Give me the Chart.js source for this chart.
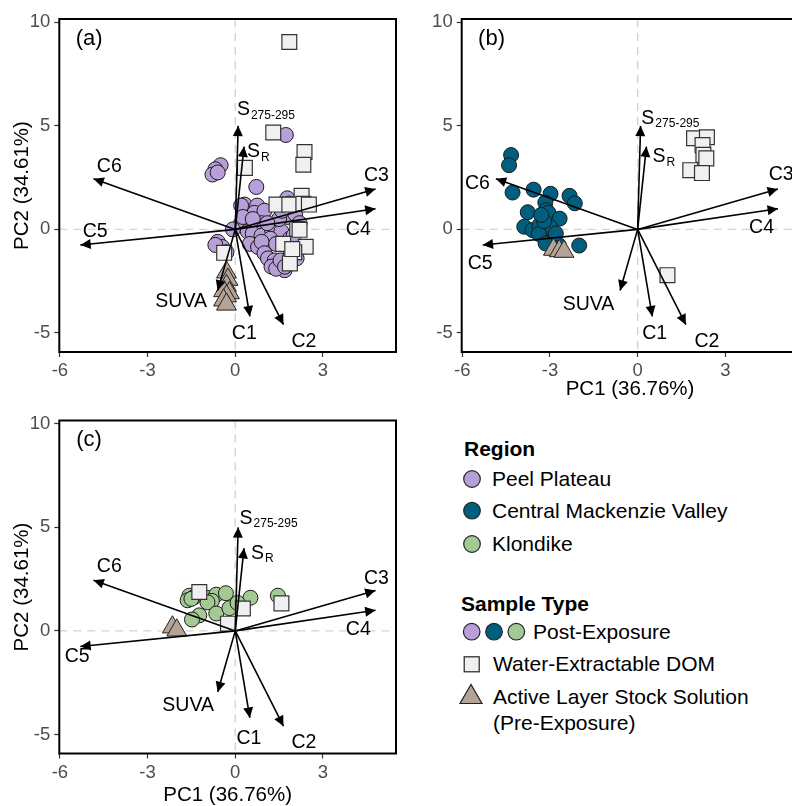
<!DOCTYPE html>
<html>
<head>
<meta charset="utf-8">
<script src="https://cdn.jsdelivr.net/npm/chart.js@4.4.1/dist/chart.umd.min.js"></script>
<style>
  html, body { margin: 0; padding: 0; background: #fff; overflow: hidden; }
  #page { position: relative; width: 792px; height: 806px; overflow: hidden; font-family: "Liberation Sans", Arial, sans-serif; }
  canvas { position: absolute; }
  .lg { position: absolute; font-size: 21px; line-height: 24px; color: #000; white-space: nowrap; }
  .lg.head { font-weight: bold; }
</style>
</head>
<body>
<div id="page">
  <canvas id="panelA" width="400" height="400" style="left:0px;top:0px"></canvas>
  <canvas id="panelB" width="402" height="400" style="left:400px;top:0px"></canvas>
  <canvas id="panelC" width="400" height="406" style="left:0px;top:400px"></canvas>

  <!-- legend -->
  <svg style="position:absolute;left:440px;top:420px" width="352" height="330">
    <g stroke="#222" stroke-width="1.2">
      <circle cx="32" cy="59" r="8.3" fill="#b79fd8"/>
      <circle cx="32" cy="90.7" r="8.3" fill="#005f7f"/>
      <circle cx="32" cy="124" r="8.3" fill="#a3c995"/>
      <circle cx="31.7" cy="211.7" r="8.3" fill="#b79fd8"/>
      <circle cx="54" cy="211.7" r="8.3" fill="#005f7f"/>
      <circle cx="76.3" cy="211.7" r="8.3" fill="#a3c995"/>
      <rect x="24.2" y="236.8" width="15" height="15" fill="#f0f0f0"/>
      <polygon points="20,283.5 42,283.5 31,264.5" fill="#b5a396"/>
    </g>
  </svg>
  <div class="lg head" style="left:464px;top:437px">Region</div>
  <div class="lg" style="left:492px;top:467px">Peel Plateau</div>
  <div class="lg" style="left:492px;top:499px">Central Mackenzie Valley</div>
  <div class="lg" style="left:492px;top:532px">Klondike</div>
  <div class="lg head" style="left:461px;top:592px">Sample Type</div>
  <div class="lg" style="left:533px;top:620px">Post-Exposure</div>
  <div class="lg" style="left:493px;top:652px">Water-Extractable DOM</div>
  <div class="lg" style="left:493px;top:685px">Active Layer Stock Solution</div>
  <div class="lg" style="left:493px;top:711px">(Pre-Exposure)</div>
</div>
<script>
const FONT = '"Liberation Sans", Arial, sans-serif';

// axes, shared by the three panels
const xTicks = [-6, -3, 0, 3];
const yTicks = [-5, 0, 5, 10];
const xRange = [-6.02, 5.5];
const yRange = [-5.92, 10.16];

// PCA loadings (arrows) - identical in every panel
const loadNames = ['C1', 'C2', 'C3', 'C4', 'C5', 'C6', 'SUVA', 'S', 'S'];
const loadSubs  = ['', '', '', '', '', '', '', '275-295', 'R'];
const loadX = [0.5, 1.65, 4.8, 4.8, -5.3, -4.85, -0.6, 0.1, 0.3];
const loadY = [-4.2, -4.6, 1.95, 1.0, -0.75, 2.45, -2.95, 5.0, 4.0];

// label spots per panel (labels were repelled, so they move a bit)
const labelXA = [0.31, 2.35, 4.83, 4.21, -4.79, -4.31, -1.85, 1.05, 0.79];
const labelYA = [-4.95, -5.35, 2.67, 0.08, -0.03, 3.11, -3.42, 5.85, 3.83];
const labelXB = [0.58, 2.37, 4.91, 4.24, -5.39, -5.48, -1.68, 1.12, 0.9];
const labelYB = [-4.95, -5.35, 2.7, 0.16, -1.57, 2.3, -3.55, 5.44, 3.59];
const labelXC = [0.47, 2.35, 4.83, 4.21, -5.41, -4.31, -1.61, 1.14, 0.93];
const labelYC = [-5.12, -5.33, 2.61, 0.16, -1.18, 3.17, -3.51, 5.51, 3.82];
const tagX = -5.0, tagY = 9.2;

// (a) Peel Plateau
const peelPost = [
  [1.73, 4.56], [-0.5, 3.1], [-0.68, 2.9], [-0.78, 2.65], [-0.6, 2.75], [0.72, 2.05],
  [1.78, 1.5], [1.85, 1.25], [0.32, 1.2], [0.75, 1.15], [0.2, 1.15], [0.66, 0.8], [1.0, 0.9],
  [0.2, 0.3], [0.9, 0.3], [1.35, 0.2], [1.8, 0.6], [2.05, 0.75], [0.26, 0.6],
  [-0.08, 0.0], [0.43, -0.1], [0.6, -0.2], [0.9, -0.3], [1.25, 0.0], [1.58, -0.1],
  [1.2, -0.45], [1.87, -0.45], [2.0, -0.3], [-0.6, -0.6], [-0.45, -0.85], [-0.68, -0.75],
  [-0.3, -1.1], [0.5, -0.7], [0.78, -0.85], [0.9, -0.6], [1.4, -0.7], [1.0, -1.15],
  [1.12, -1.4], [1.35, -1.5], [1.46, -1.8], [1.24, -1.8], [1.69, -1.97], [1.4, -1.9],
  [1.55, -1.5], [1.7, -1.8], [2.15, -1.0], [2.1, -1.4], [1.9, -1.2], [0.6, 0.5],
  [1.5, 0.5], [1.1, 0.3], [1.6, 0.9], [2.2, 0.3]
];
const peelWater = [
  [1.85, 9.05], [1.3, 4.68], [2.37, 3.74], [2.33, 3.12], [0.33, 2.97], [2.27, 1.62],
  [1.41, 1.2], [1.85, 1.2], [2.33, 1.24], [2.52, 1.2], [2.12, 0.02], [2.2, -0.02],
  [1.64, -0.7], [2.41, -0.84], [2.02, -1.1], [1.87, -1.64], [-0.38, -1.13], [1.95, -0.95]
];
const peelStock = [
  [-0.3, -2.07], [-0.25, -2.42], [-0.3, -2.72], [-0.4, -2.97], [-0.2, -3.07],
  [-0.3, -3.22], [-0.4, -3.42], [-0.3, -3.62]
];

// (b) Central Mackenzie Valley
const cmvPost = [
  [-4.33, 3.59], [-4.4, 3.1], [-4.28, 1.78], [-3.56, 1.92], [-2.98, 1.72], [-2.33, 1.62],
  [-2.15, 1.26], [-3.16, 1.3], [-3.13, 0.93], [-3.76, 0.83], [-3.05, 0.8], [-2.67, 0.52],
  [-3.88, 0.13], [-3.6, -0.03], [-3.36, 0.2], [-3.05, -0.03], [-3.0, 0.12], [-3.38, -0.22],
  [-3.2, 0.4], [-2.0, -0.78], [-2.9, -0.52], [-3.15, -0.68], [-2.7, -0.76], [-3.3, 0.7],
  [-2.8, -0.2]
];
const cmvWater = [
  [1.93, 4.4], [2.37, 4.45], [2.22, 4.07], [2.25, 3.6], [2.35, 3.43], [1.8, 2.86],
  [2.2, 2.72], [1.02, -2.21]
];
const cmvStock = [[-2.88, -0.97], [-2.68, -1.04], [-2.52, -1.07]];

// (c) Klondike
const klonPost = [
  [-1.57, 1.7], [-1.4, 1.64], [-1.63, 1.48], [-1.5, 1.55], [-0.97, 1.6], [-0.65, 1.75],
  [-0.32, 1.82], [-0.8, 1.45], [-0.95, 1.38], [0.52, 1.6], [1.46, 1.7], [-1.23, 0.75],
  [-1.48, 0.55], [-0.65, 0.84], [-0.2, 1.1], [0.08, 1.35]
];
const klonWater = [[-1.23, 1.88], [1.58, 1.33], [0.26, 1.08], [-0.25, 0.35]];
const klonStock = [[-2.15, 0.18], [-2.0, 0.03]];

// zero lines, arrow heads, arrow labels, panel tag and the panel box
const biplot = {
  id: 'biplot',
  beforeDatasetsDraw(chart) {
    const {ctx, chartArea: a, scales: {x, y}} = chart;
    const x0 = x.getPixelForValue(0), y0 = y.getPixelForValue(0);
    ctx.save();
    ctx.strokeStyle = '#d4d4d4';
    ctx.lineWidth = 1.4;
    ctx.setLineDash([8, 6]);
    ctx.beginPath();
    ctx.moveTo(x0, a.top); ctx.lineTo(x0, a.bottom);
    ctx.moveTo(a.left, y0); ctx.lineTo(a.right, y0);
    ctx.stroke();
    ctx.restore();
  },
  afterDatasetsDraw(chart, args, opts) {
    const {ctx, chartArea: a, scales: {x, y}} = chart;
    const x0 = x.getPixelForValue(0), y0 = y.getPixelForValue(0);
    ctx.save();
    ctx.fillStyle = '#000';
    loadX.forEach((lx, i) => {
      const tx = x.getPixelForValue(lx), ty = y.getPixelForValue(loadY[i]);
      const ang = Math.atan2(ty - y0, tx - x0);
      const len = 11.5, half = 0.45;
      ctx.beginPath();
      ctx.moveTo(tx, ty);
      ctx.lineTo(tx - len * Math.cos(ang - half), ty - len * Math.sin(ang - half));
      ctx.lineTo(tx - len * Math.cos(ang + half), ty - len * Math.sin(ang + half));
      ctx.closePath();
      ctx.fill();
    });

    ctx.textBaseline = 'alphabetic';
    ctx.textAlign = 'left';
    loadNames.forEach((name, i) => {
      const cx = x.getPixelForValue(opts.labelX[i]);
      const cy = y.getPixelForValue(opts.labelY[i]);
      ctx.font = `19.5px ${FONT}`;
      const w1 = ctx.measureText(name).width;
      ctx.font = `12px ${FONT}`;
      const w2 = loadSubs[i] ? ctx.measureText(loadSubs[i]).width + 1 : 0;
      const left = cx - (w1 + w2) / 2, base = cy + 7;
      ctx.font = `19.5px ${FONT}`;
      ctx.fillText(name, left, base);
      if (loadSubs[i]) {
        ctx.font = `12px ${FONT}`;
        ctx.fillText(loadSubs[i], left + w1 + 1, base + 3.5);
      }
    });

    ctx.font = `22px ${FONT}`;
    ctx.textAlign = 'center';
    ctx.textBaseline = 'middle';
    ctx.fillText(opts.tag, x.getPixelForValue(tagX), y.getPixelForValue(tagY));

    ctx.strokeStyle = '#000';
    ctx.lineWidth = 2;
    ctx.strokeRect(a.left, a.top, a.right - a.left, a.bottom - a.top);
    ctx.restore();
  }
};

function makePanel(id, cfg) {
  const pts = arr => arr.map(([x, y]) => ({x, y}));
  const datasets = [];
  loadX.forEach((lx, i) => datasets.push({
    data: [{x: 0, y: 0}, {x: lx, y: loadY[i]}],
    showLine: true, borderColor: '#000', borderWidth: 1.6, pointRadius: 0, order: 1
  }));
  datasets.push({
    data: pts(cfg.stock), pointStyle: 'triangle', pointRadius: 11.5,
    backgroundColor: '#b5a396', borderColor: '#222', borderWidth: 1, order: 2
  });
  datasets.push({
    data: pts(cfg.water), pointStyle: 'rect', pointRadius: 10.5,
    backgroundColor: '#f0f0f0', borderColor: '#333', borderWidth: 1.2, order: 3
  });
  datasets.push({
    data: pts(cfg.post), pointStyle: 'circle', pointRadius: 7.5,
    backgroundColor: cfg.color, borderColor: '#1a1a1a', borderWidth: 1, order: 4
  });

  return new Chart(document.getElementById(id), {
    type: 'scatter',
    data: { datasets },
    options: {
      responsive: false,
      animation: false,
      events: [],
      // autoPadding would push the plot area in to make room for big markers
      layout: { padding: cfg.padding, autoPadding: false },
      plugins: {
        legend: { display: false },
        tooltip: { enabled: false },
        biplot: { labelX: cfg.labelX, labelY: cfg.labelY, tag: cfg.tag }
      },
      scales: {
        x: {
          type: 'linear', min: xRange[0], max: xRange[1],
          afterBuildTicks: s => { s.ticks = xTicks.map(v => ({value: v})); },
          afterFit: s => { s.height = cfg.xAxisHeight; },
          ticks: {
            color: '#4d4d4d', font: {family: FONT, size: 18.5}, padding: 3,
            maxRotation: 0, autoSkip: false, callback: v => String(v)
          },
          grid: { drawOnChartArea: false, tickLength: 5, tickColor: '#333', tickWidth: 1.2 },
          border: { display: false },
          title: {
            display: cfg.xTitle, text: 'PC1 (36.76%)', color: '#000',
            font: {family: FONT, size: 20.5, lineHeight: 1}, padding: {top: 0, bottom: 0}
          }
        },
        y: {
          type: 'linear', min: yRange[0], max: yRange[1],
          afterBuildTicks: s => { s.ticks = yTicks.map(v => ({value: v})); },
          afterFit: s => { s.width = cfg.yAxisWidth; },
          ticks: {
            color: '#4d4d4d', font: {family: FONT, size: 18.5}, padding: 4,
            autoSkip: false, callback: v => String(v)
          },
          grid: { drawOnChartArea: false, tickLength: 5, tickColor: '#333', tickWidth: 1.2 },
          border: { display: false },
          title: {
            display: cfg.yTitle, text: 'PC2 (34.61%)', color: '#000',
            font: {family: FONT, size: 20.5, lineHeight: 1}, padding: {top: 11.7, bottom: 0}
          }
        }
      }
    },
    plugins: [biplot]
  });
}

makePanel('panelA', {
  post: peelPost, water: peelWater, stock: peelStock, color: '#b79fd8',
  labelX: labelXA, labelY: labelYA, tag: '(a)',
  xTitle: false, yTitle: true, yAxisWidth: 59.3, xAxisHeight: 48,
  padding: {left: 0, right: 4, top: 19, bottom: 0}
});
makePanel('panelB', {
  post: cmvPost, water: cmvWater, stock: cmvStock, color: '#005f7f',
  labelX: labelXB, labelY: labelYB, tag: '(b)',
  xTitle: true, yTitle: false, yAxisWidth: 61.7, xAxisHeight: 48,
  padding: {left: 0, right: 3.6, top: 19, bottom: 0}
});
makePanel('panelC', {
  post: klonPost, water: klonWater, stock: klonStock, color: '#a3c995',
  labelX: labelXC, labelY: labelYC, tag: '(c)',
  xTitle: true, yTitle: true, yAxisWidth: 59.3, xAxisHeight: 52.5,
  padding: {left: 0, right: 4, top: 20.5, bottom: 0}
});
</script>
</body>
</html>
